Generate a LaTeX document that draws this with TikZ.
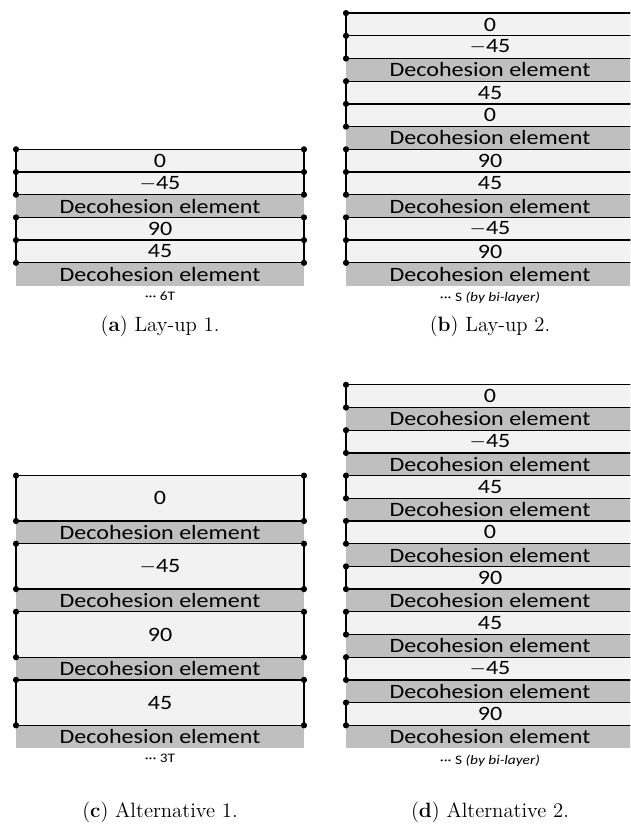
\documentclass[tikz,border=0pt]{standalone}
\usepackage{fontspec}
\usetikzlibrary{positioning}
\newfontfamily\lblfont[FakeStretch=1.18]{Carlito}
\definecolor{plyfill}{gray}{0.95}
\definecolor{cohfill}{gray}{0.75}

\tikzset{
  ply/.style={draw, fill=plyfill, line width=0.7pt, minimum width=5.76cm, minimum height=0.454cm,
    inner sep=0pt, outer sep=0pt, font=\lblfont\fontsize{11.6}{12}\selectfont},
  ply2/.style={ply, minimum height=0.908cm},
  coh/.style={ply, draw=none, fill=cohfill},
  note/.style={font=\lblfont\fontsize{7.4}{8}\selectfont, inner sep=1pt},
  subcap/.style={font=\fontsize{11.8}{14}\selectfont},
}

% one stack of layers: name, top centre, list of style/label
\newcommand{\layup}[3]{
  \coordinate (#10) at #2;
  \foreach \sty/\lab [count=\i, remember=\i as \j (initially 0)] in {#3} {
    \node[\sty, below=0pt of #1\j] (#1\i) {\lab};
    \draw[line width=0.7pt] (#1\i.north west) -- (#1\i.north east);
    \fill (#1\i.north west) circle (0.062) (#1\i.north east) circle (0.062);
  }
}
\newcommand{\mns}{$-$}

\begin{document}
\begin{tikzpicture}
    \clip (0,0) rectangle (12.6,-16.5);

    % Lay-up 1
    \layup{a}{(3.2,-2.986)}{ply/0, ply/\mns45, coh/Decohesion element, ply/90, ply/45, coh/Decohesion element}
    \node[note, below=2.5pt of a6] (a-note) {··· 6T};
    \node[subcap] (a-cap) at (3.2,-6.52) {(\textbf{a}) Lay-up 1.};

    % Lay-up 2
    \layup{b}{(9.8,-0.262)}{ply/0, ply/\mns45, coh/Decohesion element, ply/45, ply/0, coh/Decohesion element,
      ply/90, ply/45, coh/Decohesion element, ply/\mns45, ply/90, coh/Decohesion element}
    \node[note, below=2.5pt of b12] (b-note) {··· S \textit{(by bi-layer)}};
    \node[subcap] (b-cap) at (9.8,-6.52) {(\textbf{b}) Lay-up 2.};

    % Alternative 1
    \layup{c}{(3.2,-9.512)}{ply2/0, coh/Decohesion element, ply2/\mns45, coh/Decohesion element,
      ply2/90, coh/Decohesion element, ply2/45, coh/Decohesion element}
    \node[note, below=2.5pt of c8] (c-note) {··· 3T};
    \node[subcap] (c-cap) at (3.2,-16.24) {(\textbf{c}) Alternative 1.};

    % Alternative 2
    \layup{d}{(9.8,-7.696)}{ply/0, coh/Decohesion element, ply/\mns45, coh/Decohesion element,
      ply/45, coh/Decohesion element, ply/0, coh/Decohesion element, ply/90, coh/Decohesion element,
      ply/45, coh/Decohesion element, ply/\mns45, coh/Decohesion element, ply/90, coh/Decohesion element}
    \node[note, below=2.5pt of d16] (d-note) {··· S \textit{(by bi-layer)}};
    \node[subcap] (d-cap) at (9.8,-16.24) {(\textbf{d}) Alternative 2.};
\end{tikzpicture}
\end{document}
